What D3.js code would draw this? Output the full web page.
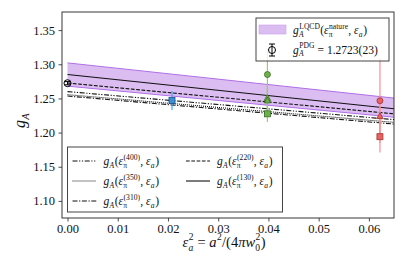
<!DOCTYPE html>
<html><head><meta charset="utf-8">
<script src="https://cdn.jsdelivr.net/npm/d3@7"></script>
<style>body{margin:0;background:#fff} text{white-space:pre}</style></head>
<body><svg id="c" width="415" height="257"></svg>
<script>
// ---- data ----
const xTicks = [0.00, 0.01, 0.02, 0.03, 0.04, 0.05, 0.06];
const yTicks = [1.10, 1.15, 1.20, 1.25, 1.30, 1.35];
const fitX = [0, 0.065];
const fit400 = [1.260, 1.219];
const fit350 = [1.2555, 1.215];
const fit310 = [1.2535, 1.2125];
const fit220 = [1.2725, 1.2275];
const fit130 = [1.285, 1.235];
const bandUpper = [1.302, 1.2505];
const bandLower = [1.268, 1.2225];
const pdgX = 0, pdgG = 1.2723, pdgErr = 0.0023;
const ptEps    = [0.0208, 0.0398, 0.0398, 0.0398, 0.0398, 0.0622, 0.0622, 0.0622];
const ptG      = [1.247, 1.285, 1.2505, 1.247, 1.2275, 1.2466, 1.224, 1.194];
const ptErr    = [0.014, 0.038, 0.020, 0.018, 0.012, 0.062, 0.030, 0.023];
const ptMarker = ['s', 'o', '^', '^', 's', 'o', '^', 's'];
const ptGroup  = ['b', 'g', 'g', 'g', 'g', 'r', 'r', 'r'];

const colors = {
  b: {fill: '#3b8fd6', edge: '#1c4f80', bar: '#42a2ff'},
  g: {fill: '#6cb24a', edge: '#3a6b22', bar: '#8fd06a'},
  r: {fill: '#e86262', edge: '#a23434', bar: '#f79090'}
};

const svg = d3.select('#c');
const FONT = '"Liberation Serif", "DejaVu Serif", serif';
const x = d3.scaleLinear().domain([-0.0011, 0.065]).range([62, 394]);
const y = d3.scaleLinear().domain([1.075, 1.3765]).range([218, 12]);

svg.append('defs').append('clipPath').attr('id', 'clip')
  .append('rect').attr('x', 62).attr('y', 12).attr('width', 332).attr('height', 206);
const plot = svg.append('g').attr('clip-path', 'url(#clip)');

// band
const bandData = fitX.map((v, i) => ({x: v, lo: bandLower[i], hi: bandUpper[i]}));
plot.append('path').datum(bandData)
  .attr('d', d3.area().x(d => x(d.x)).y0(d => y(d.lo)).y1(d => y(d.hi)))
  .attr('fill', '#dcbdf2').attr('stroke', 'none');
['hi', 'lo'].forEach(k => {
  plot.append('path').datum(bandData)
    .attr('d', d3.line().x(d => x(d.x)).y(d => y(d[k])))
    .attr('fill', 'none').attr('stroke', '#b070e6').attr('stroke-width', 1);
});

// fit lines
const fits = [
  {v: fit400, dash: '5,1.6,1.2,1.6,1.2,1.6'},
  {v: fit350, dash: '1,1'},
  {v: fit310, dash: '5,1.6,1.2,1.6'},
  {v: fit220, dash: '3.7,1.6'},
  {v: fit130, dash: null}
];
fits.forEach(f => {
  plot.append('path').datum(fitX.map((v, i) => [v, f.v[i]]))
    .attr('d', d3.line().x(d => x(d[0])).y(d => y(d[1])))
    .attr('fill', 'none').attr('stroke', '#111').attr('stroke-width', 1.1)
    .attr('stroke-dasharray', f.dash);
});

// error bars
ptEps.forEach((e, i) => {
  const c = colors[ptGroup[i]];
  plot.append('line').attr('x1', x(e)).attr('x2', x(e))
    .attr('y1', y(ptG[i] - ptErr[i])).attr('y2', y(ptG[i] + ptErr[i]))
    .attr('stroke', c.bar).attr('stroke-width', 1.2);
});
// markers
function marker(g, type, cx, cy, fill, edge) {
  if (type === 'o') g.append('circle').attr('cx', cx).attr('cy', cy).attr('r', 3)
    .attr('fill', fill).attr('stroke', edge).attr('stroke-width', 0.8);
  else if (type === 's') g.append('rect').attr('x', cx - 3).attr('y', cy - 3).attr('width', 6).attr('height', 6)
    .attr('fill', fill).attr('stroke', edge).attr('stroke-width', 0.8);
  else g.append('path').attr('d', `M${cx},${cy - 3.4}L${cx + 3.2},${cy + 2.4}L${cx - 3.2},${cy + 2.4}Z`)
    .attr('fill', fill).attr('stroke', edge).attr('stroke-width', 0.8);
}
ptEps.forEach((e, i) => {
  const c = colors[ptGroup[i]];
  marker(plot, ptMarker[i], x(e), y(ptG[i]), c.fill, c.edge);
});

// PDG point
function pdgMarker(g, cx, cy, half) {
  g.append('line').attr('x1', cx).attr('x2', cx).attr('y1', cy - half).attr('y2', cy + half)
    .attr('stroke', '#000').attr('stroke-width', 1);
  [cy - half, cy + half].forEach(yy => g.append('line').attr('x1', cx - 3).attr('x2', cx + 3)
    .attr('y1', yy).attr('y2', yy).attr('stroke', '#000').attr('stroke-width', 1));
  g.append('circle').attr('cx', cx).attr('cy', cy).attr('r', 3.5)
    .attr('fill', 'none').attr('stroke', '#000').attr('stroke-width', 1);
}
pdgMarker(svg, x(pdgX), y(pdgG), y(pdgG - pdgErr) - y(pdgG));

// frame
svg.append('rect').attr('x', 62).attr('y', 12).attr('width', 332).attr('height', 206)
  .attr('fill', 'none').attr('stroke', '#222').attr('stroke-width', 0.9);

// axes
const xAxis = d3.axisBottom(x).tickValues(xTicks).tickFormat(d3.format('.2f')).tickSize(3.5).tickPadding(2.5);
const yAxis = d3.axisLeft(y).tickValues(yTicks).tickFormat(d3.format('.2f')).tickSize(3.5).tickPadding(3.5);
const gx = svg.append('g').attr('transform', 'translate(0,218)').call(xAxis);
const gy = svg.append('g').attr('transform', 'translate(62,0)').call(yAxis);
[gx, gy].forEach(g => {
  g.select('.domain').remove();
  g.selectAll('line').attr('stroke', '#222').attr('stroke-width', 0.8);
  g.selectAll('text').attr('font-family', FONT).attr('font-size', 12.5).attr('fill', '#111');
});

// math text helper
function put(g, txt, px, py, size, italic) {
  const t = g.append('text').attr('x', px).attr('y', py).attr('font-family', FONT)
    .attr('xml:space', 'preserve').style('white-space', 'pre')
    .attr('font-size', size).attr('font-style', italic ? 'italic' : 'normal').attr('fill', '#111').text(txt);
  return t.node().getComputedTextLength();
}
function math(g, px, py, tokens, fs) {
  let cx = px;
  tokens.forEach(tk => {
    if (tk.t !== undefined) cx += put(g, tk.t, cx, py, fs, tk.i);
    else {
      let w1 = 0, w2 = 0;
      if (tk.sup !== undefined) w1 = put(g, tk.sup, cx + 0.5, py - fs * 0.45, fs * 0.66, tk.supI);
      if (tk.sub !== undefined) w2 = put(g, tk.sub, cx + 0.2, py + fs * 0.25, fs * 0.66, tk.subI);
      cx += Math.max(w1, w2) + 0.8;
    }
  });
  return cx - px;
}
function gaTokens(mpi) {
  return [{t: 'g', i: 1}, {sub: 'A', subI: 1}, {t: '('}, {t: 'ε', i: 1}, {sup: mpi, sub: 'π'},
    {t: ', '}, {t: 'ε', i: 1}, {sub: 'a', subI: 1}, {t: ')'}];
}

// axis labels
const xl = svg.append('g');
const xw = math(xl, 0, 0, [{t: 'ε', i: 1}, {sup: '2', sub: 'a', subI: 1}, {t: ' = '}, {t: 'a', i: 1}, {sup: '2'},
  {t: '/(4'}, {t: 'π', i: 1}, {t: 'w', i: 1}, {sup: '2', sub: '0'}, {t: ')'}], 14.5);
xl.attr('transform', `translate(${224 - xw / 2},247)`);
const yl = svg.append('g');
math(yl, 0, 0, [{t: 'g', i: 1}, {sub: 'A', subI: 1}], 16);
yl.attr('transform', 'translate(25,128) rotate(-90)');

// upper legend
const L1 = svg.append('g');
L1.append('rect').attr('x', 256).attr('y', 18).attr('width', 133).attr('height', 43)
  .attr('fill', 'rgba(255,255,255,0.8)').attr('stroke', '#444').attr('stroke-width', 1);
L1.append('rect').attr('x', 259).attr('y', 25).attr('width', 27).attr('height', 9)
  .attr('fill', '#dcbdf2').attr('stroke', '#c9a0ee').attr('stroke-width', 0.6);
pdgMarker(L1, 272, 50, 6);
math(L1, 293, 34, [{t: 'g', i: 1}, {sup: 'LQCD', sub: 'A', subI: 1}, {t: '('}, {t: 'ε', i: 1},
  {sup: 'nature', sub: 'π'}, {t: ', '}, {t: 'ε', i: 1}, {sub: 'a', subI: 1}, {t: ')'}], 11.5);
math(L1, 293, 53.5, [{t: 'g', i: 1}, {sup: 'PDG', sub: 'A', subI: 1}, {t: ' = 1.2723(23)'}], 11.5);

// lower legend
const L2 = svg.append('g');
L2.append('rect').attr('x', 67.5).attr('y', 147).attr('width', 215).attr('height', 65)
  .attr('fill', 'rgba(255,255,255,0.8)').attr('stroke', '#444').attr('stroke-width', 1);
const legRows = [
  {col: 0, row: 0, mpi: '(400)', dash: '5,1.6,1.2,1.6,1.2,1.6'},
  {col: 0, row: 1, mpi: '(350)', dash: '1,1'},
  {col: 0, row: 2, mpi: '(310)', dash: '5,1.6,1.2,1.6'},
  {col: 1, row: 0, mpi: '(220)', dash: '3.7,1.6'},
  {col: 1, row: 1, mpi: '(130)', dash: null}
];
legRows.forEach(r => {
  const lx = r.col === 0 ? 72.5 : 186, ly = 161 + r.row * 20;
  L2.append('line').attr('x1', lx).attr('x2', lx + 24).attr('y1', ly).attr('y2', ly)
    .attr('stroke', '#111').attr('stroke-width', 1.1).attr('stroke-dasharray', r.dash);
  math(L2, lx + 31, ly + 4, gaTokens(r.mpi), 11.5);
});
</script></body></html>
